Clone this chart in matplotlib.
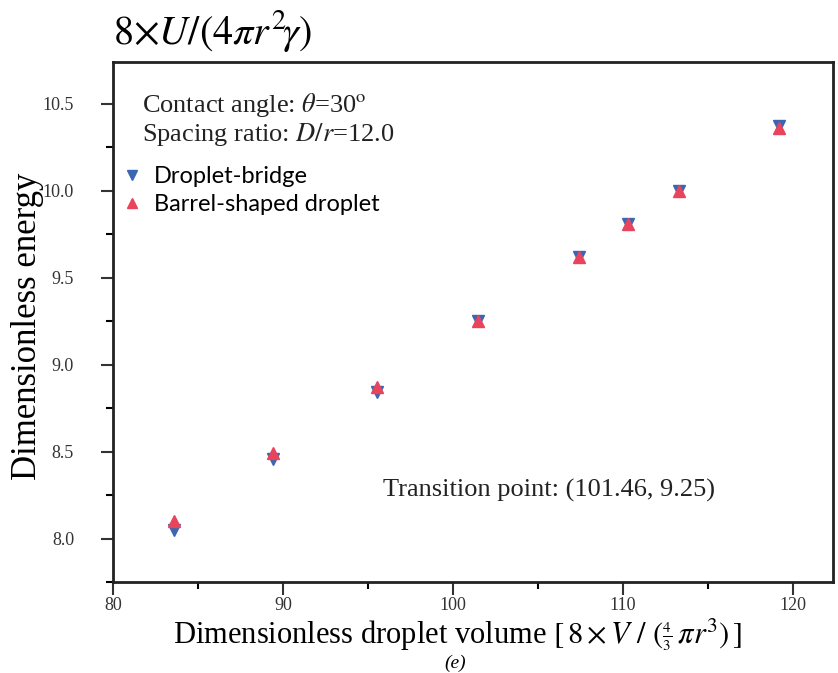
import matplotlib
matplotlib.use("Agg")
import matplotlib.pyplot as plt
from matplotlib.ticker import MultipleLocator

plt.rcParams["font.family"] = ["Liberation Serif", "DejaVu Serif"]
plt.rcParams["mathtext.fontset"] = "stix"

# data
volume = [83.6, 89.4, 95.5, 101.46, 107.4, 110.3, 113.3, 119.2]
bridge_energy = [8.05, 8.46, 8.84, 9.25, 9.62, 9.81, 10.00, 10.37]
barrel_energy = [8.10, 8.49, 8.87, 9.25, 9.62, 9.81, 10.00, 10.36]
x_ticks = [80, 90, 100, 110, 120]
y_ticks = [8.0, 8.5, 9.0, 9.5, 10.0, 10.5]

blue = "#3b67b2"
red = "#e8445c"

W, H = 838, 673
fig = plt.figure(figsize=(W / 100, H / 100), dpi=100)
ax = fig.add_axes([113 / W, 1 - 582 / H, (833 - 113) / W, (582 - 62) / H])

ax.plot(volume, bridge_energy, "v", color=blue, markersize=8, linestyle="none",
        label="Droplet-bridge")
ax.plot(volume, barrel_energy, "^", color=red, markersize=8, linestyle="none",
        label="Barrel-shaped droplet")

ax.set_xlim(80, 122.35)
ax.set_ylim(7.75, 10.74)
ax.set_xticks(x_ticks)
ax.set_yticks(y_ticks)
ax.xaxis.set_minor_locator(MultipleLocator(5))
ax.yaxis.set_minor_locator(MultipleLocator(0.25))
ax.tick_params(which="major", direction="out", length=9, width=1.5, labelsize=13,
               colors="#333333")
ax.tick_params(which="minor", direction="out", length=5, width=1.5)
ax.tick_params(axis="x", pad=2)
ax.tick_params(axis="y", pad=19)
for s in ax.spines.values():
    s.set_linewidth(2)
    s.set_color("#222222")

ax.text(0.04, 0.917, r"Contact angle: $\theta$=30$^{\rm o}$", transform=ax.transAxes,
        fontsize=19, color="#222222", va="center")
ax.text(0.04, 0.86, r"Spacing ratio: $D/r$=12.0", transform=ax.transAxes,
        fontsize=19, color="#222222", va="center")
ax.text(0.375, 0.177, "Transition point: (101.46, 9.25)", transform=ax.transAxes,
        fontsize=19, color="#222222", va="center")

ax.legend(loc="upper left", bbox_to_anchor=(0.0, 0.818), frameon=False,
          prop={"family": "Lato", "size": 17}, handlelength=0.8,
          handletextpad=0.55, labelspacing=0.3, borderaxespad=0.0,
          markerscale=0.95)

fig.text(113 / W, 1 - 31 / H, r"$8{\times}U/(4\pi r^2\!\gamma)$", fontsize=29,
         va="center", ha="left")
fig.text(27 / W, 1 - 326 / H, "Dimensionless energy", fontsize=25,
         rotation=90, va="center", ha="center")
fig.text(458 / W, 1 - 643 / H,
         r"Dimensionless droplet volume $[\,8\times V\ /\ (\genfrac{}{}{0.5}{2}{4}{3}\,\pi r^3)\,]$",
         fontsize=22, va="baseline", ha="center")
fig.text(455 / W, 1 - 672 / H, "(e)", fontsize=14, style="italic",
         va="bottom", ha="center")

fig.savefig("out.png", dpi=100)
